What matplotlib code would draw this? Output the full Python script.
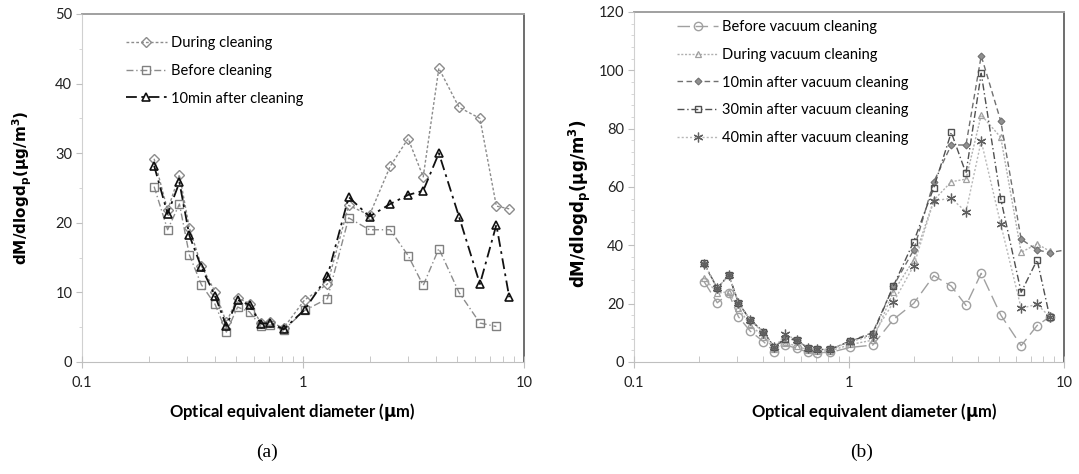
import numpy as np
import matplotlib.pyplot as plt
from matplotlib.ticker import FixedLocator, NullFormatter, FuncFormatter, MultipleLocator

plt.rcParams['font.family'] = ['Lato', 'DejaVu Sans']

# channel mid-point diameters (um)
dp = [0.212, 0.244, 0.276, 0.306, 0.347, 0.400, 0.450, 0.506, 0.573, 0.645, 0.712, 0.818,
      1.016, 1.29, 1.61, 2.00, 2.48, 2.99, 3.50, 4.12, 5.08, 6.32, 7.50, 8.58]

# (a) cleaning
a_during = [29.2, 21.8, 26.9, 19.3, 13.8, 10.1, 5.7, 9.2, 8.4, 5.6, 5.7, 4.9,
            8.9, 11.2, 22.5, 21.1, 28.1, 32.1, 26.6, 42.2, 36.6, 35.0, 22.4, 22.0]
a_before = [25.2, 19.0, 22.7, 15.4, 11.1, 8.3, 4.3, 7.9, 7.2, 5.1, 5.3, 4.6,
            7.4, 9.1, 20.7, 19.0, 19.0, 15.3, 11.0, 16.3, 10.0, 5.6, 5.1]
a_10min = [28.2, 21.3, 25.8, 18.2, 13.6, 9.5, 5.2, 8.9, 8.2, 5.5, 5.6, 4.7,
           7.5, 12.3, 23.7, 20.9, 22.7, 24.0, 24.6, 30.0, 20.9, 11.2, 19.7, 9.3]

# (b) vacuum cleaning
b_before = [27.5, 20.3, 23.5, 15.5, 10.6, 7.0, 3.5, 5.8, 4.7, 3.3, 3.2, 3.3,
            5.0, 5.8, 14.6, 20.1, 29.6, 26.0, 19.4, 30.4, 16.1, 5.6, 12.5, 15.5]
b_during = [28.8, 23.6, 24.1, 18.5, 12.7, 8.7, 4.5, 6.5, 5.5, 4.0, 3.8, 3.8,
            6.0, 7.5, 24.1, 35.0, 55.5, 61.8, 62.7, 84.7, 77.0, 37.6, 40.5, 38.0]
b_10min_dp = dp + [10.5]
b_10min = [33.5, 25.3, 29.8, 20.3, 14.4, 10.4, 5.0, 8.5, 7.5, 4.7, 4.3, 4.3,
           7.2, 10.1, 26.1, 38.4, 61.8, 74.4, 74.4, 105.0, 82.6, 42.1, 38.4, 37.5, 38.6]
b_30min = [33.8, 25.3, 29.8, 20.3, 14.4, 10.4, 5.0, 8.0, 7.5, 4.7, 4.3, 4.3,
           7.2, 9.6, 26.1, 41.3, 59.8, 78.7, 64.7, 99.0, 55.9, 23.9, 35.0, 15.5]
b_40min = [33.5, 25.3, 29.8, 20.3, 14.4, 10.0, 5.0, 9.5, 7.5, 4.7, 4.3, 4.3,
           7.0, 9.0, 20.5, 33.0, 55.3, 56.1, 51.5, 75.8, 47.2, 18.4, 19.8, 15.5]

YLABEL = r'$\mathbf{dM/dlogd_p(\mu g/m^3)}$'
XLABEL = r'Optical equivalent diameter ($\mathbf{\mu}$m)'

fig = plt.figure(figsize=(10.79, 4.74), dpi=100)
ax_a = fig.add_axes([0.076, 0.2363, 0.4096, 0.7342])
ax_b = fig.add_axes([0.5876, 0.2363, 0.3985, 0.7384])


def style_axes(ax, ymax, major, minor):
    ax.set_xscale('log')
    ax.set_xlim(0.1, 10)
    ax.set_ylim(0, ymax)
    ax.xaxis.set_major_locator(FixedLocator([0.1, 1, 10]))
    ax.xaxis.set_major_formatter(FuncFormatter(lambda v, p: f'{v:g}'))
    ax.xaxis.set_minor_locator(FixedLocator([k * 10.0 ** e for e in (-1, 0) for k in range(2, 10)]))
    ax.xaxis.set_minor_formatter(NullFormatter())
    ax.yaxis.set_major_locator(MultipleLocator(major))
    ax.yaxis.set_minor_locator(MultipleLocator(minor))
    ax.tick_params(axis='x', which='major', direction='inout', length=8, color='#bfbfbf',
                   labelsize=10.5, labelcolor='#222222', pad=6)
    ax.tick_params(axis='x', which='minor', direction='in', length=4, color='#bfbfbf')
    ax.tick_params(axis='y', which='major', direction='out', length=4, color='#bfbfbf',
                   labelsize=10.5, labelcolor='#222222', pad=3)
    ax.tick_params(axis='y', which='minor', direction='out', length=2, color='#d0d0d0')
    ax.spines['left'].set_color('#d0d0d0')
    ax.spines['bottom'].set_color('#bfbfbf')
    ax.spines['top'].set_color('#a0a0a0')
    ax.spines['top'].set_linewidth(1.4)
    ax.spines['right'].set_color('#555555')
    ax.spines['right'].set_linewidth(1.2)


style_axes(ax_a, 50, 10, 5)
style_axes(ax_b, 120, 20, 4)

# (a)
ax_a.plot(dp, a_during, color='#8c8c8c', ls=(0, (2, 1.5)), lw=1.0, marker='D', ms=5,
          mfc='none', mec='#8c8c8c', mew=1.0, label='During cleaning')
ax_a.plot(dp[:len(a_before)], a_before, color='#8c8c8c', ls=(0, (5, 2, 1, 2)), lw=1.0,
          marker='s', ms=6, mfc='none', mec='#808080', mew=1.0, label='Before cleaning')
ax_a.plot(dp, a_10min, color='#111111', ls=(0, (6, 2.5, 1.5, 2.5)), lw=1.3, marker='^',
          ms=6, mfc='none', mec='#111111', mew=1.2, label='10min after cleaning')

leg_a = ax_a.legend(loc='upper left', bbox_to_anchor=(0.07, 0.975), frameon=False,
                    fontsize=10.5, handlelength=2.8, handletextpad=0.3, labelspacing=0.95)

# (b)
ax_b.plot(dp, b_before, color='#a0a0a0', ls=(0, (9, 4)), lw=1.0, marker='o', ms=6,
          mfc='none', mec='#a0a0a0', mew=1.0, label='Before vacuum cleaning')
ax_b.plot(dp, b_during, color='#b0b0b0', ls=(0, (1.5, 1.2)), lw=1.0, marker='^', ms=4.5,
          mfc='none', mec='#a0a0a0', mew=0.9, label='During vacuum cleaning')
ax_b.plot(b_10min_dp, b_10min, color='#707070', ls=(0, (4, 2.5)), lw=1.0, marker='D', ms=3.5,
          mfc='#909090', mec='#707070', mew=0.8, label='10min after vacuum cleaning')
ax_b.plot(dp, b_30min, color='#505050', ls=(0, (5, 2, 1, 2)), lw=1.0, marker='s', ms=5,
          mfc='none', mec='#505050', mew=1.0, label='30min after vacuum cleaning')
ax_b.plot(dp, b_40min, color='#b8b8b8', ls=(0, (1.5, 1.5)), lw=1.0, marker=(6, 2, 0), ms=7,
          mfc='none', mec='#606060', mew=0.9, label='40min after vacuum cleaning')

leg_b = ax_b.legend(loc='upper left', bbox_to_anchor=(0.07, 1.015), frameon=False,
                    fontsize=10.5, handlelength=2.8, handletextpad=0.3, labelspacing=0.95)

for ax in (ax_a, ax_b):
    for sp in ax.spines.values():
        sp.set_zorder(0)

fig.text(22 / 1079, 1 - 188 / 474, YLABEL, rotation=90, ha='center', va='center',
         fontsize=11)
fig.text(580 / 1079, 1 - 204 / 474, YLABEL, rotation=90, ha='center', va='center',
         fontsize=12)
fig.text(292 / 1079, 1 - 412 / 474, XLABEL, ha='center', va='center', fontsize=12,
         fontweight='bold')
fig.text(874 / 1079, 1 - 412 / 474, XLABEL, ha='center', va='center', fontsize=12,
         fontweight='bold')
fig.text(267 / 1079, 1 - 452 / 474, '(a)', ha='center', va='center', fontsize=14,
         family='Liberation Serif')
fig.text(862 / 1079, 1 - 452 / 474, '(b)', ha='center', va='center', fontsize=14,
         family='Liberation Serif')

fig.savefig('out.png', dpi=100, facecolor='white')
